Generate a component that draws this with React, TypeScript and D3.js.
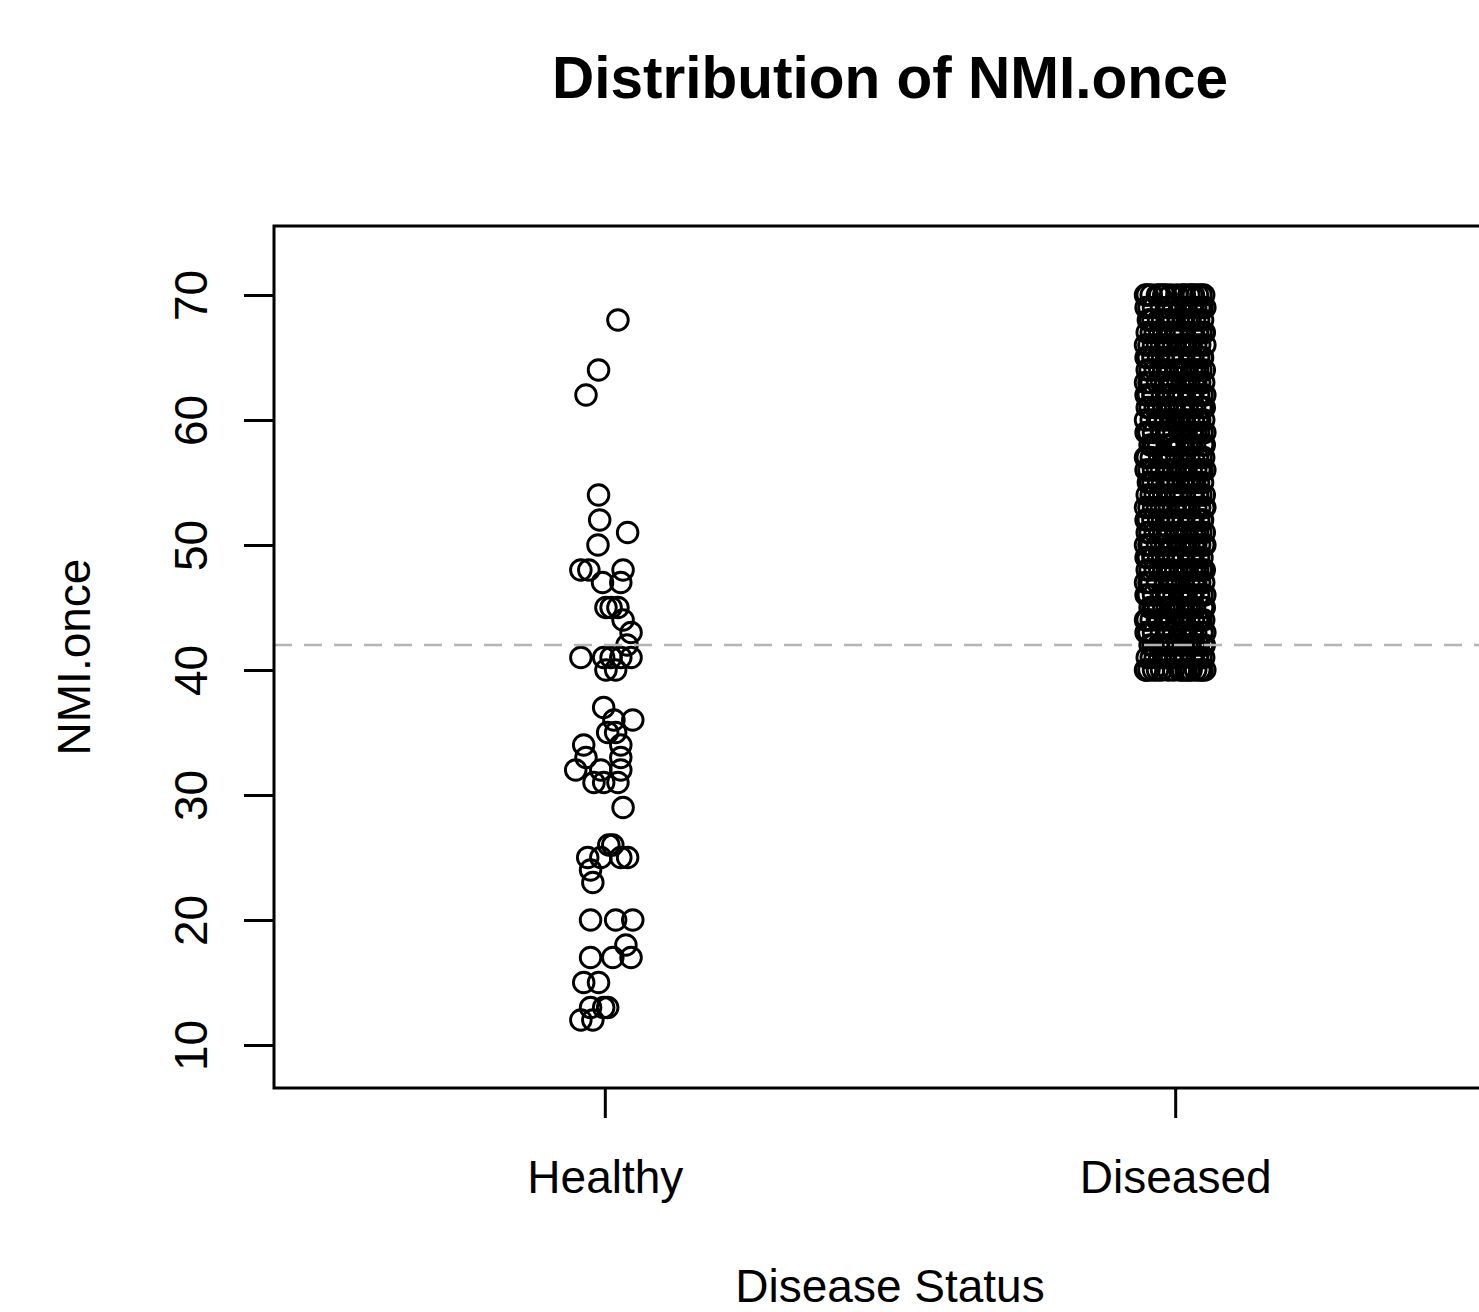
import React, { useRef, useEffect } from "react";
import * as d3 from "d3";

// Healthy: NMI.once values and horizontal jitter (category units)
const healthyValues = [
  68, 64, 62, 54, 52, 51, 50, 48, 48, 48, 47, 47, 45, 45, 45, 44, 43, 42, 41, 41,
  41, 41, 41, 40, 40, 37, 36, 36, 35, 35, 34, 34, 33, 33, 32, 32, 32, 31, 31, 31,
  29, 26, 26, 25, 25, 25, 25, 24, 23, 20, 20, 20, 18, 17, 17, 17, 15, 15, 13, 13,
  13, 12, 12,
];
const healthyJitter = [
  0.023, -0.011, -0.033, -0.011, -0.009, 0.04, -0.012, -0.042, -0.028, 0.032, -0.004, 0.028,
  0.002, 0.011, 0.023, 0.032, 0.046, 0.039, -0.042, -0.002, 0.011, 0.028, 0.046, 0.002,
  0.019, -0.002, 0.016, 0.049, 0.005, 0.019, -0.037, 0.028, -0.033, 0.028, -0.051, -0.007,
  0.028, -0.019, -0.002, 0.023, 0.032, 0.007, 0.014, -0.03, -0.007, 0.028, 0.04, -0.025,
  -0.021, -0.025, 0.019, 0.049, 0.037, -0.025, 0.014, 0.046, -0.037, -0.011, -0.025, -0.002,
  0.005, -0.042, -0.021,
];

// Diseased: every value from 40 to 70, with how many patients have it
const diseasedLevels = [
  40, 41, 42, 43, 44, 45, 46, 47, 48, 49, 50, 51, 52, 53, 54, 55,
  56, 57, 58, 59, 60, 61, 62, 63, 64, 65, 66, 67, 68, 69, 70,
];
const diseasedCounts = [
  17, 15, 14, 15, 16, 15, 15, 14, 16, 15, 17, 15, 16, 15, 14, 16,
  15, 14, 15, 16, 15, 14, 16, 15, 15, 14, 16, 15, 15, 14, 17,
];
// jitter offsets cycled through the diseased points
const diseasedJitter = [
  -0.051, 0.047, -0.012, 0.028, -0.038, 0.008, 0.052, -0.024, 0.019, -0.046, 0.036, -0.003,
  0.043, -0.031, 0.013, -0.052, 0.024, -0.017, 0.05, -0.008, 0.032, -0.042, 0.003, 0.039,
  -0.027, 0.016, -0.049, 0.045, -0.02, 0.029, -0.035, 0.01, 0.051, -0.014, 0.021, -0.044,
  0.034, -0.006, 0.048, -0.029, 0.005, -0.039, 0.026, -0.01, 0.041, -0.022, 0.015, -0.047,
  0.031,
];

const categories = ["Healthy", "Diseased"];
const yTicks = [10, 20, 30, 40, 50, 60, 70];
const cutoff = 42;

const App = () => {
  const svgRef = useRef<SVGSVGElement>(null);

  useEffect(() => {
    const svg = d3.select(svgRef.current);
    svg.selectAll("*").remove();

    const box = { left: 274, right: 1506, top: 226, bottom: 1088 };
    const x = d3.scaleLinear().domain([0.42, 2.58]).range([box.left, box.right]);
    const y = d3.scaleLinear().domain([6.56, 75.52]).range([box.bottom, box.top]);
    const font = "'Liberation Sans', Arial, Helvetica, sans-serif";

    const points: { v: number; j: number; c: number }[] = [];
    healthyValues.forEach((v, i) => points.push({ v, j: healthyJitter[i], c: 1 }));
    let k = 0;
    diseasedLevels.forEach((v, i) => {
      for (let n = 0; n < diseasedCounts[i]; n++) {
        points.push({ v, j: diseasedJitter[k % diseasedJitter.length], c: 2 });
        k++;
      }
    });

    svg
      .selectAll(".pt")
      .data(points)
      .join("circle")
      .attr("class", "pt")
      .attr("cx", (d) => x(d.c + d.j))
      .attr("cy", (d) => y(d.v))
      .attr("r", 10.3)
      .attr("fill", "none")
      .attr("stroke", "#000")
      .attr("stroke-width", 2.9);

    // cutoff line
    svg
      .append("line")
      .attr("x1", box.left)
      .attr("x2", box.right)
      .attr("y1", y(cutoff))
      .attr("y2", y(cutoff))
      .attr("stroke", "#b4b4b4")
      .attr("stroke-width", 2.6)
      .attr("stroke-dasharray", "18,12");

    // plot box
    svg
      .append("rect")
      .attr("x", box.left)
      .attr("y", box.top)
      .attr("width", box.right - box.left)
      .attr("height", box.bottom - box.top)
      .attr("fill", "none")
      .attr("stroke", "#000")
      .attr("stroke-width", 3);

    // y axis
    const yAxis = d3.axisLeft(y).tickValues(yTicks).tickSize(30).tickPadding(37).tickFormat(d3.format("d"));
    const gy = svg.append("g").attr("transform", `translate(${box.left},0)`).call(yAxis);
    gy.select(".domain").remove();
    gy.selectAll(".tick line").attr("stroke", "#000").attr("stroke-width", 3);
    gy.selectAll(".tick text")
      .attr("x", null)
      .attr("dy", null)
      .attr("transform", "translate(-67,0) rotate(-90)")
      .attr("text-anchor", "middle")
      .attr("font-family", font)
      .attr("font-size", 46)
      .attr("fill", "#000");

    // x axis
    const xAxis = d3
      .axisBottom(x)
      .tickValues([1, 2])
      .tickSize(30)
      .tickPadding(68)
      .tickFormat((d) => categories[(d as number) - 1]);
    const gx = svg.append("g").attr("transform", `translate(0,${box.bottom})`).call(xAxis);
    gx.select(".domain").remove();
    gx.selectAll(".tick line").attr("stroke", "#000").attr("stroke-width", 3);
    gx.selectAll(".tick text")
      .attr("dy", null)
      .attr("y", 105)
      .attr("font-family", font)
      .attr("font-size", 46)
      .attr("fill", "#000");

    // titles
    svg
      .append("text")
      .attr("x", 890)
      .attr("y", 98)
      .attr("text-anchor", "middle")
      .attr("font-family", font)
      .attr("font-weight", "bold")
      .attr("font-size", 58.5)
      .text("Distribution of NMI.once");

    svg
      .append("text")
      .attr("x", 890)
      .attr("y", 1302)
      .attr("text-anchor", "middle")
      .attr("font-family", font)
      .attr("font-size", 46)
      .text("Disease Status");

    svg
      .append("text")
      .attr("transform", `translate(90,${(box.top + box.bottom) / 2}) rotate(-90)`)
      .attr("text-anchor", "middle")
      .attr("font-family", font)
      .attr("font-size", 46)
      .text("NMI.once");
  }, []);

  return (
    <svg
      ref={svgRef}
      width={1479}
      height={1312}
      style={{ position: "absolute", left: 0, top: 0, background: "#fff" }}
    />
  );
};

export default App;
